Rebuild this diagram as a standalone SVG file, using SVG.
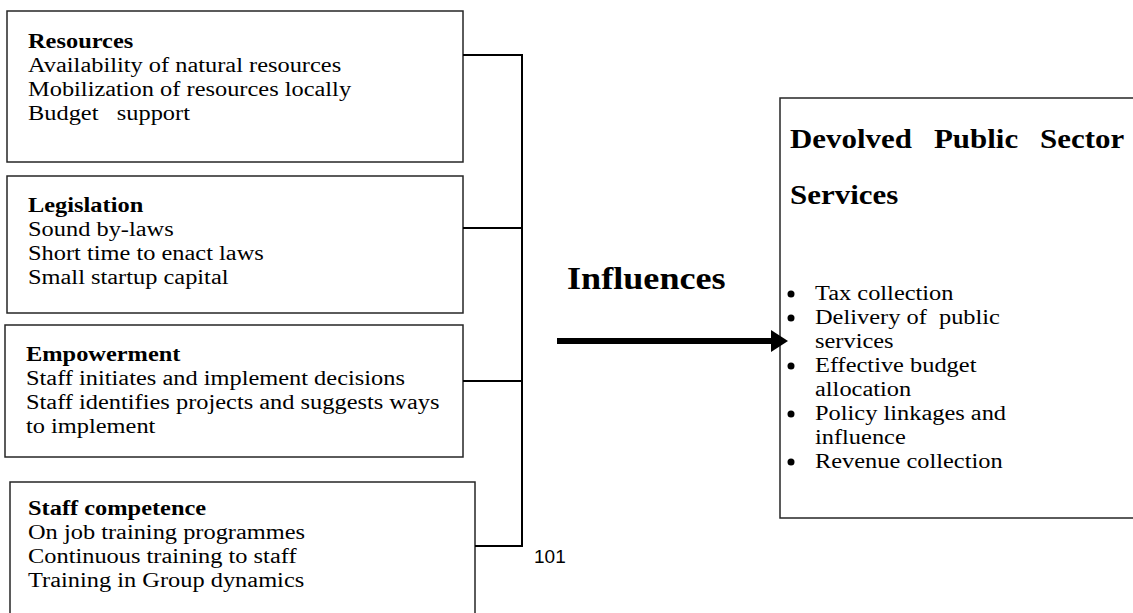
<svg xmlns="http://www.w3.org/2000/svg" width="1133" height="613" viewBox="0 0 1133 613">
<style>
.box{fill:#fff;stroke:#262626;stroke-width:1.5}
.t{font-family:"Liberation Serif","Times New Roman",serif;font-size:21.6px;fill:#000;white-space:pre}
.b{font-weight:bold}
.h{font-size:27.4px;font-weight:bold}
.n{font-family:"Liberation Sans",Arial,sans-serif;font-size:19px;fill:#000}
.conn{stroke:#000;stroke-width:2;fill:none}
.bul{fill:#000}
</style>
<rect width="1133" height="613" fill="#fff"/>
<g id="resources">
<rect class="box" x="7" y="11" width="456" height="151"/>
<text class="t" transform="translate(28,0) scale(1.13,1)" xml:space="preserve"><tspan class="b" x="0" y="48">Resources</tspan><tspan x="0" y="72">Availability of natural resources</tspan><tspan x="0" y="96">Mobilization of resources locally</tspan><tspan x="0" y="120">Budget   support</tspan></text>
</g>
<g id="legislation">
<rect class="box" x="7" y="176" width="456" height="137"/>
<text class="t" transform="translate(28,0) scale(1.13,1)"><tspan class="b" x="0" y="212">Legislation</tspan><tspan x="0" y="236">Sound by-laws</tspan><tspan x="0" y="260">Short time to enact laws</tspan><tspan x="0" y="284">Small startup capital</tspan></text>
</g>
<g id="empowerment">
<rect class="box" x="5" y="325" width="458" height="132"/>
<text class="t" transform="translate(26,0) scale(1.13,1)"><tspan class="b" x="0" y="361">Empowerment</tspan><tspan x="0" y="385">Staff initiates and implement decisions</tspan><tspan x="0" y="409">Staff identifies projects and suggests ways</tspan><tspan x="0" y="433">to implement</tspan></text>
</g>
<g id="staff-competence">
<rect class="box" x="10" y="482" width="465" height="140"/>
<text class="t" transform="translate(28,0) scale(1.13,1)"><tspan class="b" x="0" y="515">Staff competence</tspan><tspan x="0" y="539">On job training programmes</tspan><tspan x="0" y="563">Continuous training to staff</tspan><tspan x="0" y="587">Training in Group dynamics</tspan></text>
</g>
<g id="devolved-services">
<rect class="box" x="780" y="98" width="400" height="420"/>
<text class="t h" transform="translate(790,0) scale(1.13,1)"><tspan x="0" y="148">Devolved</tspan><tspan x="127.4" y="148">Public</tspan><tspan x="221.2" y="148">Sector</tspan><tspan x="0" y="204">Services</tspan></text>
<circle class="bul" cx="791" cy="294" r="3.5"/>
<circle class="bul" cx="791" cy="318" r="3.5"/>
<circle class="bul" cx="791" cy="366" r="3.5"/>
<circle class="bul" cx="791" cy="414" r="3.5"/>
<circle class="bul" cx="791" cy="462" r="3.5"/>
<text class="t" transform="translate(815,0) scale(1.13,1)" xml:space="preserve"><tspan x="0" y="300">Tax collection</tspan><tspan x="0" y="324">Delivery of  public</tspan><tspan x="0" y="348">services</tspan><tspan x="0" y="372">Effective budget</tspan><tspan x="0" y="396">allocation</tspan><tspan x="0" y="420">Policy linkages and</tspan><tspan x="0" y="444">influence</tspan><tspan x="0" y="468">Revenue collection</tspan></text>
</g>
<g id="connectors">
<polyline class="conn" points="463,55 522,55 522,546 475,546"/>
<line class="conn" x1="463" y1="228" x2="522" y2="228"/>
<line class="conn" x1="463" y1="381" x2="522" y2="381"/>
<line x1="557" y1="341" x2="774" y2="341" stroke="#000" stroke-width="6"/>
<polygon points="771,330 788,341 771,352" fill="#000"/>
<text class="t b" transform="translate(567,0) scale(1.13,1)" x="0" y="289" style="font-size:32px">Influences</text>
<text class="n" x="534" y="563">101</text>
</g>
</svg>
